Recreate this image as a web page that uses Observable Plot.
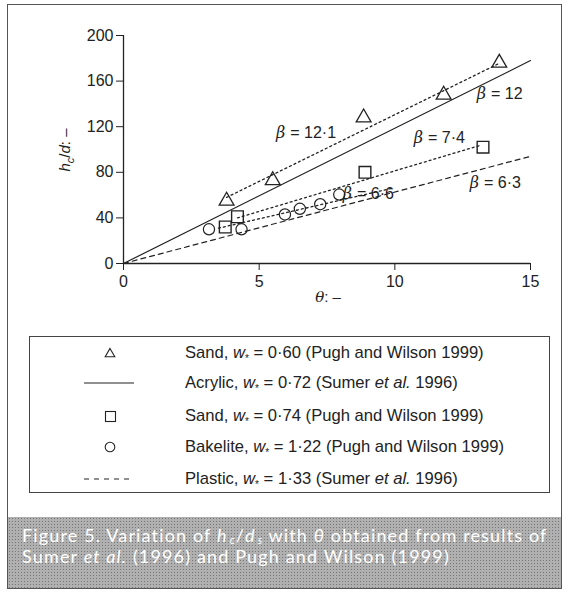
<!DOCTYPE html>
<html>
<head>
<meta charset="utf-8">
<script src="https://cdn.jsdelivr.net/npm/d3@7"></script>
<script src="https://cdn.jsdelivr.net/npm/@observablehq/plot@0.6"></script>
<style>
  html, body { margin: 0; padding: 0; background: #fff; }
  body { width: 566px; height: 592px; position: relative; overflow: hidden; font-family: "Liberation Sans", Arial, sans-serif; }
  #frame { position: absolute; left: 7px; top: 4px; width: 555px; height: 585px; border: 1.5px solid #555; box-sizing: border-box; pointer-events: none; }
  #chart { position: absolute; left: 0; top: 0; }
  #legend { position: absolute; left: 29px; top: 336px; width: 521px; height: 157px; border: 1.3px solid #444; box-sizing: border-box; background: #fff; }
  .row { position: absolute; left: 0; width: 100%; height: 24px; }
  .row svg { position: absolute; left: 50px; top: 0; }
  .row span { position: absolute; left: 155px; top: 2px; font-size: 16.6px; color: #222; white-space: nowrap; }
  #caption { position: absolute; left: 8px; top: 517px; width: 553px; height: 71px; background-color: #b0b0b0;
    background-image: radial-gradient(rgba(80,80,80,0.6) 0.7px, transparent 0.9px); background-size: 3px 3px;
    color: #fff; font-family: Lato, "Open Sans", sans-serif; font-size: 18px; letter-spacing: 1.15px; line-height: 21px; padding: 8px 0 0 14px; box-sizing: border-box; white-space: nowrap; }
  #caption i { font-style: italic; }
  #caption .sb { font-size: 11px; font-style: italic; position: relative; top: 2px; line-height: 0; letter-spacing: 0; margin: 0 1px 0 2px; }
</style>
</head>
<body>
<div id="chart"></div>
<div id="legend"></div>
<div id="caption">Figure 5. Variation of <i>h</i><span class="sb">c</span>/<i>d</i><span class="sb">s</span> with <i>θ</i> obtained from results of<br>Sumer <i>et al.</i> (1996) and Pugh and Wilson (1999)</div>
<div id="frame"></div>
<script>
// ---- data ----
const xTicks = [0, 5, 10, 15];
const yTicks = [0, 40, 80, 120, 160, 200];

const sand060Theta = [3.8, 5.5, 8.85, 11.8, 13.85];
const sand060H     = [55, 73, 128, 148, 176];

const sand074Theta = [3.75, 4.2, 8.9, 13.25];
const sand074H     = [32, 41, 80, 102];

const bakeliteTheta = [3.15, 4.35, 5.95, 6.5, 7.25, 7.95];
const bakeliteH     = [30, 30, 43, 48, 52, 60.5];

// fitted / reported lines (end points)
const acrylicTheta = [0, 15];
const acrylicH     = [0, 178];
const plasticTheta = [0, 15];
const plasticH     = [0, 94];
const fit060Theta  = [3.8, 13.8];
const fit060H      = [58, 175];
const fit074Theta  = [4.2, 13.2];
const fit074H      = [40, 104];
const fitBakTheta  = [3.5, 9.9];
const fitBakH      = [31, 66];

// β labels
const betaNames = ["12·1", "12", "7·4", "6·6", "6·3"];
const betaTheta = [5.96, 13.36, 11.04, 8.42, 13.1];
const betaH     = [115, 149, 110.5, 61, 71];

const legendLabels = [
  ["Sand, ", "0·60 (Pugh and Wilson 1999)", null],
  ["Acrylic, ", "0·72 (Sumer ", " 1996)"],
  ["Sand, ", "0·74 (Pugh and Wilson 1999)", null],
  ["Bakelite, ", "1·22 (Pugh and Wilson 1999)", null],
  ["Plastic, ", "1·33 (Sumer ", " 1996)"]
];

const pts = (xs, ys) => xs.map((x, i) => ({x, y: ys[i]}));
const betas = betaNames.map((n, i) => ({n, x: betaTheta[i], y: betaH[i]}));

const chart = Plot.plot({
  width: 566, height: 320,
  marginLeft: 123, marginRight: 36, marginTop: 35, marginBottom: 57,
  x: {domain: [0, 15]},
  y: {domain: [0, 200]},
  style: {fontFamily: "Liberation Sans, Arial, sans-serif", fontSize: "16px", color: "#222", background: "transparent"},
  marks: [
    Plot.axisX({ticks: xTicks, tickSize: 7, tickPadding: 5, label: null, stroke: "#222"}),
    Plot.axisY({ticks: yTicks, tickSize: 7, tickPadding: 3, label: null, stroke: "#222"}),
    Plot.ruleX([0], {stroke: "#222", strokeWidth: 1.3}),
    Plot.ruleY([0], {stroke: "#222", strokeWidth: 1.6}),
    Plot.line(pts(acrylicTheta, acrylicH), {x: "x", y: "y", stroke: "#222", strokeWidth: 1.2}),
    Plot.line(pts(plasticTheta, plasticH), {x: "x", y: "y", stroke: "#222", strokeWidth: 1.2, strokeDasharray: "5,4"}),
    Plot.line(pts(fit060Theta, fit060H), {x: "x", y: "y", stroke: "#222", strokeWidth: 1.3, strokeDasharray: "2,3"}),
    Plot.line(pts(fit074Theta, fit074H), {x: "x", y: "y", stroke: "#222", strokeWidth: 1.3, strokeDasharray: "2,3"}),
    Plot.line(pts(fitBakTheta, fitBakH), {x: "x", y: "y", stroke: "#222", strokeWidth: 1.3, strokeDasharray: "2,3"}),
    Plot.dot(pts(sand060Theta, sand060H), {x: "x", y: "y", symbol: "triangle", r: 5.5, stroke: "#222", strokeWidth: 1.3, fill: "none"}),
    Plot.dot(pts(sand074Theta, sand074H), {x: "x", y: "y", symbol: "square", r: 6.6, stroke: "#222", strokeWidth: 1.4, fill: "none"}),
    Plot.dot(pts(bakeliteTheta, bakeliteH), {x: "x", y: "y", symbol: "circle", r: 5.6, stroke: "#222", strokeWidth: 1.2, fill: "none"}),
    Plot.text(betas, {x: "x", y: "y", text: () => "β", textAnchor: "end", fontStyle: "italic", fontFamily: "DejaVu Serif, serif", fontSize: 16, fill: "#222"}),
    Plot.text(betas, {x: "x", y: "y", text: d => "= " + d.n, textAnchor: "start", dx: 5, fontSize: 16, fill: "#222"})
  ]
});
document.getElementById("chart").appendChild(chart);

// axis titles with italics / subscripts
const svg = d3.select(chart);
const yl = svg.append("text")
  .attr("transform", "translate(70,150) rotate(-90)")
  .attr("text-anchor", "middle")
  .attr("font-family", "Liberation Sans, Arial, sans-serif")
  .attr("font-size", 15).attr("fill", "#222");
yl.append("tspan").attr("font-style", "italic").text("h");
yl.append("tspan").attr("font-style", "italic").attr("font-size", 11).attr("dy", 4).text("c");
yl.append("tspan").attr("dy", -4).text("/");
yl.append("tspan").attr("font-style", "italic").text("d");
yl.append("tspan").text(": –");

const xl = svg.append("text")
  .attr("x", 328).attr("y", 302)
  .attr("text-anchor", "middle")
  .attr("font-family", "Liberation Sans, Arial, sans-serif")
  .attr("font-size", 15).attr("fill", "#222");
xl.append("tspan").attr("font-style", "italic").attr("font-family", "DejaVu Serif, serif").text("θ");
xl.append("tspan").text(": –");

// legend
const legend = d3.select("#legend");
const rowY = [4, 34, 67, 98, 130];
const symbols = ["triangle", "solid", "square", "circle", "dashed"];
legendLabels.forEach((lab, i) => {
  const row = legend.append("div").attr("class", "row").style("top", rowY[i] + "px");
  const s = row.append("svg").attr("width", 60).attr("height", 24);
  const g = s.append("g").attr("stroke", "#222").attr("fill", "none").attr("stroke-width", 1.1);
  const t = symbols[i];
  if (t === "triangle") g.append("path").attr("transform", "translate(30,13)").attr("d", d3.symbol(d3.symbolTriangle, 40)());
  if (t === "square") g.append("rect").attr("x", 25.5).attr("y", 7.5).attr("width", 10).attr("height", 10);
  if (t === "circle") g.append("circle").attr("cx", 30).attr("cy", 12).attr("r", 4.8);
  if (t === "solid") g.append("line").attr("x1", 4).attr("x2", 54).attr("y1", 12).attr("y2", 12);
  if (t === "dashed") g.append("line").attr("x1", 4).attr("x2", 52).attr("y1", 12).attr("y2", 12).attr("stroke-dasharray", "5,5");
  const sp = row.append("span");
  sp.append("tspan").text(lab[0]);
  sp.append("i").text("w");
  sp.append("sub").style("font-size", "10px").style("line-height", "0").text("*");
  sp.append("tspan").text(" = " + lab[1]);
  if (lab[2]) { sp.append("i").text("et al."); sp.append("tspan").text(lab[2]); }
});
</script>
</body>
</html>
